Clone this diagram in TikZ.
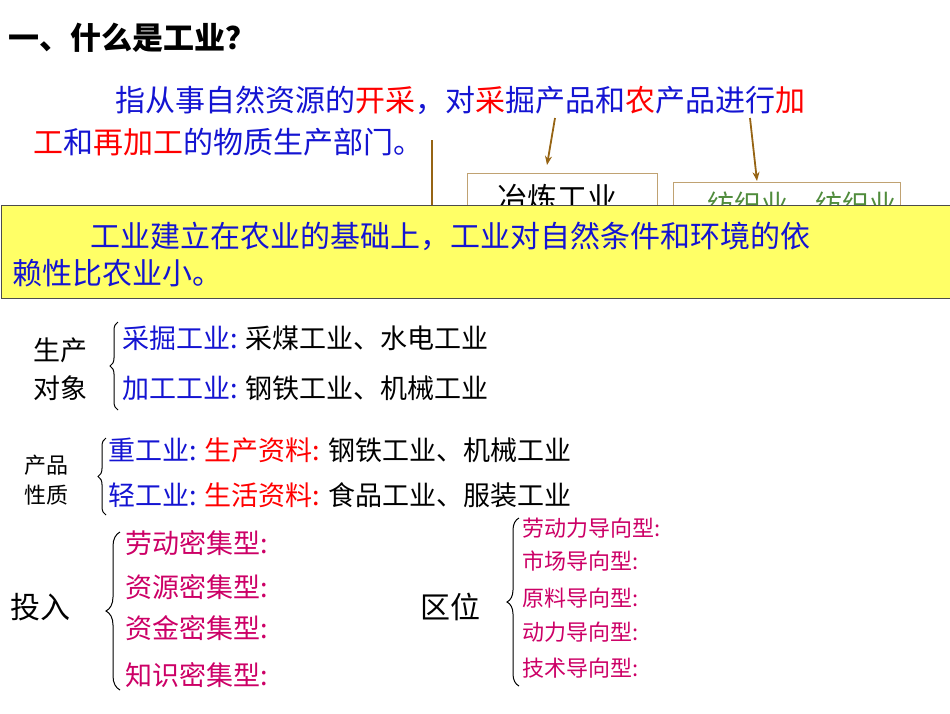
\documentclass[tikz,border=0pt]{standalone}
\usepackage{fontspec}
\setmainfont{Noto Sans CJK SC}
\usetikzlibrary{decorations.pathreplacing,arrows.meta}
\definecolor{tblue}{RGB}{20,20,210}
\definecolor{tred}{RGB}{255,0,0}
\definecolor{tmag}{RGB}{204,0,102}
\definecolor{tgreen}{RGB}{80,140,60}
\definecolor{tbrown}{RGB}{150,100,20}
\definecolor{tyel}{RGB}{255,255,102}
\tikzset{
 t/.style={anchor=west,inner sep=0pt},
 big/.style={font=\fontsize{30}{34}\selectfont},
 mid/.style={font=\fontsize{27}{30}\selectfont},
 sml/.style={font=\fontsize{22}{26}\selectfont},
 brc/.style={decorate,decoration={brace,amplitude=8pt},line width=1pt},
 arr/.style={tbrown,line width=1.8pt,-{Stealth[length=9pt,width=7pt]}},
}
\begin{document}
\begin{tikzpicture}[x=1pt,y=-1pt]
\useasboundingbox (0,0) rectangle (950,713);
\node[t,font=\fontsize{31}{34}\selectfont\bfseries] (title) at (8,38) {一、什么是工业？};
\node[t,big] (p1) at (115,100) {\textcolor{tblue}{指从事自然资源的}\textcolor{tred}{开采}\textcolor{tblue}{，对}\textcolor{tred}{采}\textcolor{tblue}{掘产品和}\textcolor{tred}{农}\textcolor{tblue}{产品进行}\textcolor{tred}{加}};
\node[t,big] (p2) at (33,142) {\textcolor{tred}{工}\textcolor{tblue}{和}\textcolor{tred}{再加工}\textcolor{tblue}{的物质生产部门。}};
% hidden boxes
\node[draw=tbrown!60,fill=white,minimum width=190pt,minimum height=60pt,anchor=north west,inner sep=0pt] (b1) at (467,173) {};
\node[t,big] (b1t) at (497,198) {冶炼工业};
\node[draw=tbrown!60,fill=white,minimum width=227pt,minimum height=50pt,anchor=north west,inner sep=0pt] (b2) at (673,182) {};
\node[t,mid,text=tgreen] (b2t) at (707,204) {纺织业、纺织业};
\coordinate (c1) at (555,118); \coordinate (c2) at (750,118); \coordinate (c3) at (432,140); \coordinate (c4) at (432,215);
\coordinate (e1) at (547,165); \coordinate (e2) at (757,181);
\draw[arr] (c1) -- (e1);
\draw[arr] (c2) -- (e2);
\draw[tbrown,line width=1.8pt] (c3) -- (c4);
% yellow box
\node[draw=black!70,line width=1pt,fill=tyel,anchor=north west,minimum width=949pt,minimum height=93pt,inner sep=0pt] (yb) at (0.5,205) {};
\node[t,big,text=tblue] (y1) at (90,236) {工业建立在农业的基础上，工业对自然条件和环境的依};
\node[t,big,text=tblue] (y2) at (12,273) {赖性比农业小。};
% 生产对象
\node[t,mid] (s1) at (33,350) {生产};
\node[t,mid] (s2) at (33,388) {对象};
\coordinate (sb1) at (118,410); \coordinate (sb2) at (118,322);
\draw[brc] (sb1) -- (sb2);
\node[t,mid] (a1) at (122,338) {\textcolor{tblue}{采掘工业:} 采煤工业、水电工业};
\node[t,mid] (a2) at (122,388) {\textcolor{tblue}{加工工业:} 钢铁工业、机械工业};
% 产品性质
\node[t,sml] (q1) at (24,465) {产品};
\node[t,sml] (q2) at (24,495) {性质};
\coordinate (qb1) at (106,515); \coordinate (qb2) at (106,438);
\draw[brc] (qb1) -- (qb2);
\node[t,mid] (h1) at (108,450) {\textcolor{tblue}{重工业:} \textcolor{tred}{生产资料:} 钢铁工业、机械工业};
\node[t,mid] (h2) at (108,495) {\textcolor{tblue}{轻工业:} \textcolor{tred}{生活资料:} 食品工业、服装工业};
% 投入
\node[t,big] (tr) at (10,607) {投入};
\coordinate (tb1) at (120,690); \coordinate (tb2) at (120,532);
\draw[brc,decoration={brace,amplitude=14pt}] (tb1) -- (tb2);
\node[t,mid,text=tmag] (i1) at (125,543) {劳动密集型:};
\node[t,mid,text=tmag] (i2) at (125,587) {资源密集型:};
\node[t,mid,text=tmag] (i3) at (125,628) {资金密集型:};
\node[t,mid,text=tmag] (i4) at (125,675) {知识密集型:};
% 区位
\node[t,big] (qw) at (420,607) {区位};
\coordinate (rb1) at (519,686); \coordinate (rb2) at (519,518);
\draw[brc,decoration={brace,amplitude=12pt}] (rb1) -- (rb2);
\node[t,sml,text=tmag] (r1) at (522,528) {劳动力导向型:};
\node[t,sml,text=tmag] (r2) at (522,561) {市场导向型:};
\node[t,sml,text=tmag] (r3) at (522,598) {原料导向型:};
\node[t,sml,text=tmag] (r4) at (522,632) {动力导向型:};
\node[t,sml,text=tmag] (r5) at (522,668) {技术导向型:};
\end{tikzpicture}
\end{document}
